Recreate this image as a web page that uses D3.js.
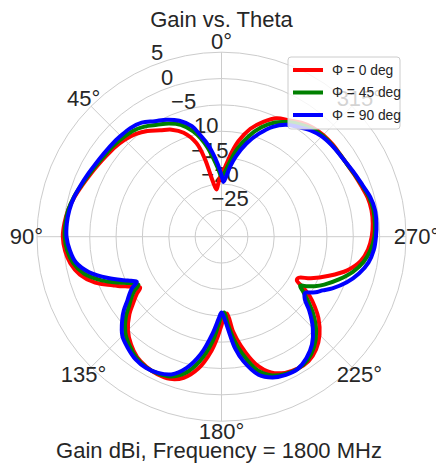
<!DOCTYPE html>
<html>
<head>
<meta charset="utf-8">
<script src="https://cdn.jsdelivr.net/npm/d3@7"></script>
<style>
  body { margin: 0; background: #fff; }
  text { font-family: "Liberation Sans", Arial, sans-serif; fill: #262626; }
</style>
</head>
<body>
<div id="chart"></div>
<script>
// Gain (dBi) vs theta, three phi cuts. theta in degrees, counter-clockwise from top.
const thetaDeg = [
  0, 3, 6, 9, 12, 15, 20, 25, 30, 35,
  40, 45, 50, 55, 60, 65, 70, 75, 80, 85,
  90, 95, 100, 105, 110, 114, 116, 118, 120, 122,
  124, 127, 130, 135, 140, 145, 150, 155, 160, 165,
  170, 175, 178, 180, 182, 184, 187, 190, 195, 200,
  205, 210, 215, 220, 225, 230, 233, 236, 238, 240,
  242, 245, 250, 255, 260, 265, 270, 275, 280, 285,
  290, 295, 300, 305, 310, 315, 320, 325, 330, 335,
  340, 345, 350, 353, 356, 358
];
const gainPhi0 = [
  -18.0, -19.6, -21.0, -19.3, -15.0, -11.6, -9.0, -7.6, -6.7, -5.5,
  -4.6, -4.0, -3.6, -3.3, -2.9, -2.4, -1.8, -1.1, -0.5, -0.1,
  0.1, -0.2, -0.9, -2.2, -4.5, -7.4, -8.6, -9.9, -11.0, -11.8,
  -10.6, -9.0, -7.2, -4.9, -3.3, -2.1, -1.5, -1.2, -1.3, -2.3,
  -4.6, -8.3, -11.2, -13.2, -14.8, -15.4, -11.8, -9.0, -5.0, -2.6,
  -1.5, -1.1, -1.2, -2.1, -3.7, -6.0, -7.8, -9.8, -11.6, -13.5,
  -13.4, -11.3, -8.3, -5.3, -3.2, -2.1, -1.5, -1.2, -1.1, -1.3,
  -1.8, -2.2, -2.5, -2.6, -2.6, -2.7, -3.0, -3.6, -4.5, -5.2,
  -6.8, -8.8, -11.6, -13.8, -16.1, -17.3
];
const gainPhi45 = [
  -18.6, -17.0, -15.0, -12.8, -10.9, -9.3, -7.4, -6.3, -5.5, -4.5,
  -3.8, -3.5, -3.2, -3.0, -2.65, -2.2, -1.65, -1.0, -0.5, -0.3,
  -0.25, -0.6, -1.4, -3.0, -5.8, -8.6, -10.0, -11.2, -11.8, -10.4,
  -9.4, -8.0, -6.3, -4.2, -2.9, -1.9, -1.4, -1.4, -1.8, -3.2,
  -6.0, -10.0, -13.2, -15.0, -15.6, -13.5, -10.2, -7.5, -3.8, -2.0,
  -1.3, -1.05, -1.5, -2.7, -4.6, -7.3, -9.3, -11.3, -12.4, -11.2,
  -10.0, -8.5, -6.3, -4.2, -2.6, -1.6, -1.0, -0.8, -0.75, -1.0,
  -1.6, -2.1, -2.5, -2.65, -2.75, -2.9, -3.3, -4.0, -4.9, -6.1,
  -7.9, -10.3, -13.2, -15.3, -17.2, -18.1
];
const gainPhi90 = [
  -18.3, -16.2, -14.0, -12.0, -10.2, -8.3, -6.6, -5.5, -4.7, -3.6,
  -3.1, -2.95, -2.8, -2.65, -2.4, -2.0, -1.55, -1.05, -0.7, -0.55,
  -0.6, -1.1, -1.95, -4.0, -7.1, -9.7, -10.9, -11.8, -10.4, -9.4,
  -8.5, -6.8, -5.4, -3.4, -2.4, -1.6, -1.3, -1.5, -2.2, -4.2,
  -7.4, -11.8, -14.4, -15.6, -14.5, -12.5, -8.6, -6.0, -2.9, -1.6,
  -1.1, -1.05, -1.9, -3.3, -5.5, -8.3, -10.2, -10.9, -10.0, -9.0,
  -8.3, -6.8, -4.7, -3.0, -1.7, -1.0, -0.7, -0.5, -0.45, -0.8,
  -1.5, -2.0, -2.45, -2.7, -2.85, -3.1, -3.7, -4.6, -5.5, -7.0,
  -9.2, -11.7, -14.6, -16.6, -18.8, -19.6
];
const seriesNames = ["Φ = 0 deg", "Φ = 45 deg", "Φ = 90 deg"];
const seriesColors = ["#ff0000", "#008000", "#0000ff"];
const radialTicks = [-25, -20, -15, -10, -5, 0, 5];
const angleTicks = [0, 45, 90, 135, 180, 225, 270, 315];

const W = 436, H = 465;
const cx = 221.5, cy = 236.7, R = 184.5;
const rad = d => d * Math.PI / 180;

const svg = d3.select("#chart").append("svg")
  .attr("width", W).attr("height", H);

const r = d3.scaleLinear().domain([-30, 5]).range([0, R]);
const g = svg.append("g").attr("transform", `translate(${cx},${cy})`);

// grid rings + outer spine
g.append("g").selectAll("circle")
  .data(radialTicks)
  .join("circle")
  .attr("r", d => r(d))
  .attr("fill", "none")
  .attr("stroke", "#cccccc")
  .attr("stroke-width", 1);

// spokes
g.append("g").selectAll("line")
  .data(angleTicks)
  .join("line")
  .attr("x1", 0).attr("y1", 0)
  .attr("x2", d => -R * Math.sin(rad(d)))
  .attr("y2", d => -R * Math.cos(rad(d)))
  .attr("stroke", "#cccccc")
  .attr("stroke-width", 1);

// angle labels
const labelR = 195;
g.append("g").selectAll("text")
  .data(angleTicks)
  .join("text")
  .attr("x", d => -labelR * Math.sin(rad(d)))
  .attr("y", d => -labelR * Math.cos(rad(d)))
  .attr("text-anchor", "middle")
  .attr("dominant-baseline", "central")
  .attr("font-size", "22px")
  .text(d => d + "°");

// radial tick labels along 22.5 deg
const fmt = d3.format("d");
g.append("g").selectAll("text")
  .data(radialTicks)
  .join("text")
  .attr("x", d => -r(d) * Math.sin(rad(22.5)))
  .attr("y", d => -r(d) * Math.cos(rad(22.5)) - 6)
  .attr("text-anchor", "start")
  .attr("font-size", "22px")
  .text(d => fmt(d));

// curves
const series = [gainPhi0, gainPhi45, gainPhi90];
const line = d3.lineRadial()
  .angle(d => -rad(d[0]))
  .radius(d => r(d[1]))
  .curve(d3.curveCatmullRomClosed.alpha(0.5));

g.append("g").selectAll("path")
  .data(series)
  .join("path")
  .attr("d", s => line(thetaDeg.map((t, i) => [t, s[i]])))
  .attr("fill", "none")
  .attr("stroke", (s, i) => seriesColors[i])
  .attr("stroke-width", 4)
  .attr("stroke-linejoin", "round");

// title + axis label
svg.append("text")
  .attr("x", cx).attr("y", 27)
  .attr("text-anchor", "middle")
  .attr("font-size", "22px")
  .text("Gain vs. Theta");

svg.append("text")
  .attr("x", 219).attr("y", 458)
  .attr("text-anchor", "middle")
  .attr("font-size", "22px")
  .text("Gain dBi, Frequency = 1800 MHz");

// legend
const leg = svg.append("g").attr("transform", "translate(288,57)");
leg.append("rect")
  .attr("width", 112).attr("height", 72)
  .attr("rx", 3)
  .attr("fill", "#ffffff").attr("fill-opacity", 0.8)
  .attr("stroke", "#cccccc").attr("stroke-width", 1);

const item = leg.selectAll("g.item")
  .data(seriesNames)
  .join("g")
  .attr("class", "item")
  .attr("transform", (d, i) => `translate(0,${13 + i * 22.5})`);

item.append("line")
  .attr("x1", 5).attr("x2", 35)
  .attr("stroke", (d, i) => seriesColors[i])
  .attr("stroke-width", 4);

item.append("text")
  .attr("x", 44)
  .attr("dominant-baseline", "central")
  .attr("font-size", "13.8px")
  .text(d => d);
</script>
</body>
</html>
